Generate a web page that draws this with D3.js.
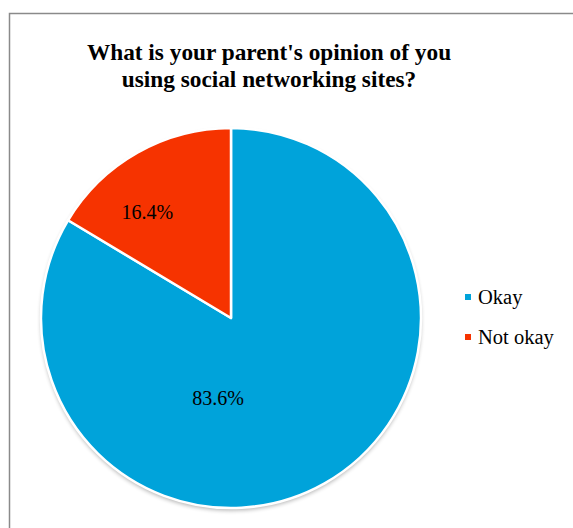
<!DOCTYPE html>
<html>
<head>
<meta charset="utf-8">
<script src="https://cdn.jsdelivr.net/npm/d3@7"></script>
<style>
  html, body { margin: 0; padding: 0; background: #fff; }
  svg { display: block; }
  svg text { font-family: "Liberation Serif", "Times New Roman", FreeSerif, serif; }
</style>
</head>
<body>
<svg id="chart" width="573" height="528"></svg>
<script>
const categories = ["Okay", "Not okay"];
const values = [83.6, 16.4];
const colors = ["#00A3DA", "#F63300"];
const titleLines = ["What is your parent's opinion of you", "using social networking sites?"];
// label anchor offsets from the pie centre, as fractions of the radius
const labelOffsets = [[-0.068, 0.42], [-0.44, -0.56]];

const svg = d3.select("#chart");
const W = 573, H = 528;

// outer chart frame
svg.append("rect")
  .attr("x", 9.5).attr("y", 13.5)
  .attr("width", W + 20).attr("height", H + 20)
  .attr("fill", "#fff")
  .attr("stroke", "#8a8a8a")
  .attr("stroke-width", 1.5);

// title
svg.append("g").selectAll("text")
  .data(titleLines)
  .join("text")
  .attr("x", 269)
  .attr("y", (d, i) => 60 + i * 27)
  .attr("text-anchor", "middle")
  .style("font-weight", "bold")
  .style("font-size", "23.3px")
  .attr("fill", "#000")
  .text(d => d);

const defs = svg.append("defs");
const blur = defs.append("filter").attr("id", "soft")
  .attr("x", "-10%").attr("y", "-10%").attr("width", "120%").attr("height", "120%");
blur.append("feGaussianBlur").attr("stdDeviation", 2);

const cx = 231, cy = 318, r = 190;
const pie = d3.pie().sort(null).value(d => d.v);
const arcs = pie(categories.map((c, i) => ({ c, v: values[i], col: colors[i], off: labelOffsets[i] })));
const arc = d3.arc().innerRadius(0).outerRadius(r);

const g = svg.append("g").attr("transform", `translate(${cx},${cy})`);
// soft shadow under the pie
g.append("circle").attr("cy", 2.5).attr("r", r).attr("fill", "#000")
  .attr("opacity", 0.3).attr("filter", "url(#soft)");
g.selectAll("path")
  .data(arcs)
  .join("path")
  .attr("d", arc)
  .attr("fill", d => d.data.col)
  .attr("stroke", "#fff")
  .attr("stroke-width", 2.5)
  .attr("stroke-linejoin", "round");

g.selectAll("text.lbl")
  .data(arcs)
  .join("text")
  .attr("class", "lbl")
  .attr("transform", d => `translate(${d.data.off[0] * r},${d.data.off[1] * r})`)
  .attr("text-anchor", "middle")
  .attr("dy", "0.35em")
  .style("font-size", "20px")
  .attr("fill", "#000")
  .text(d => d.data.v.toFixed(1) + "%");

// legend
const leg = svg.append("g").attr("transform", "translate(465,294)");
const items = leg.selectAll("g").data(categories).join("g")
  .attr("transform", (d, i) => `translate(0,${i * 40})`);
items.append("rect").attr("width", 6).attr("height", 6).attr("fill", (d, i) => colors[i]);
items.append("text")
  .attr("x", 13).attr("y", 3)
  .attr("dy", "0.35em")
  .style("font-size", "20.5px")
  .attr("fill", "#000")
  .text(d => d);
</script>
</body>
</html>
